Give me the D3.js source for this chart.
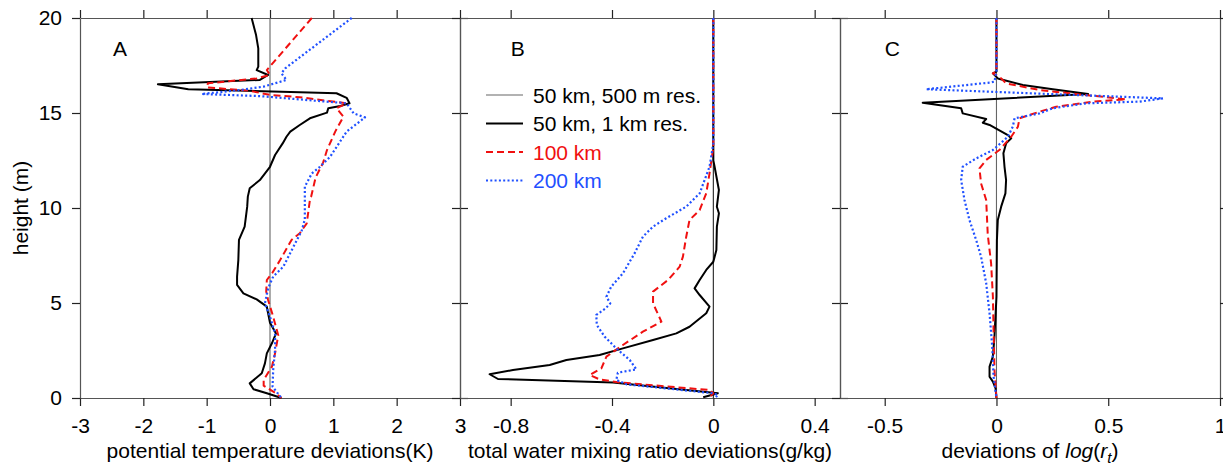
<!DOCTYPE html>
<html>
<head>
<meta charset="utf-8">
<script src="https://cdnjs.cloudflare.com/ajax/libs/d3/7.8.5/d3.min.js"></script>
<style>
body { margin: 0; background: #fff; }
svg text { font-family: "Liberation Sans", Arial, Helvetica, sans-serif; font-size: 21px; }
</style>
</head>
<body>
<svg id="chart" width="1223" height="466"></svg>
<script>

// profiles, [deviation, height], read top to bottom off the figure

// A: potential temperature deviations (K)
var thetaRef = [[0, 0], [0, 20]];
var theta1km = [[-0.29,20],[-0.22,19.1],[-0.185,18.4],[-0.185,17.44],[-0.21,17.26],[-0.03,17.0],[-0.16,16.74],[-1.77,16.51],[-1.29,16.25],[1.05,16.04],[1.21,15.8],[1.255,15.51],[1.11,15.37],[0.92,15.25],[0.9,15.02],[0.63,14.72],[0.47,14.37],[0.32,14.02],[0.26,13.75],[0.2,13.4],[0.08,12.79],[0,12.17],[-0.16,11.47],[-0.32,11.04],[-0.35,10.6],[-0.36,10.07],[-0.4,9.02],[-0.49,8.32],[-0.5,7.26],[-0.52,6.39],[-0.52,5.95],[-0.42,5.51],[-0.21,5.19],[-0.05,4.81],[-0.03,4.46],[0,3.96],[0.095,3.4],[0.03,2.88],[-0.05,2.35],[-0.08,1.82],[-0.13,1.3],[-0.32,0.77],[-0.26,0.46],[-0.05,0.25],[0.18,0]];
var theta100 = [[0.66,20],[-0.05,17.26],[0,17.0],[-0.21,16.82],[-0.98,16.56],[-1.0,16.35],[-0.32,16.17],[0,15.95],[0.47,15.83],[1.21,15.51],[1.05,15.25],[1.16,14.81],[1.03,14.02],[0.9,13.05],[0.84,12.4],[0.72,11.6],[0.65,10.6],[0.63,10.42],[0.58,9.19],[0.47,8.67],[0.34,8.32],[0.16,7.26],[0.04,6.6],[-0.05,6.21],[-0.06,5.6],[-0.03,5.16],[0.05,4.28],[0.13,3.3],[0.08,2.35],[0.03,1.65],[-0.1,0.95],[-0.1,0.65],[0.08,0.28],[0.18,0]];
var theta200 = [[1.29,20],[0.24,17.35],[0.18,17.09],[0.26,16.74],[-0.1,16.39],[-0.47,16.21],[-1.08,16.0],[-0.16,15.89],[1.21,15.51],[1.32,14.98],[1.5,14.77],[1.21,14.02],[0.95,12.7],[0.79,12.17],[0.66,11.82],[0.55,11.12],[0.55,9.4],[0.5,8.8],[0.37,7.96],[0.21,6.91],[0.05,6.39],[-0.03,5.77],[-0.08,4.98],[0,4.28],[0.08,3.4],[0.08,2.53],[0.05,1.47],[0.04,0.6],[0.18,0]];

// B: total water mixing ratio deviations (g/kg)
var rtRef = [[0, 0], [0, 20]];
var rt1km = [[0,20],[0,12.5],[0.005,12.17],[0.022,10.95],[0.014,10.07],[0.022,9.72],[0.014,9.02],[0.012,7.79],[0,7.17],[-0.028,6.74],[-0.054,6.21],[-0.074,5.77],[-0.054,5.42],[-0.015,4.81],[-0.028,4.46],[-0.094,3.75],[-0.146,3.4],[-0.238,3.05],[-0.357,2.61],[-0.449,2.26],[-0.58,2.0],[-0.646,1.74],[-0.791,1.47],[-0.883,1.25],[-0.85,1.0],[-0.396,0.82],[0,0.28],[0.018,0.25],[-0.04,0.04]];
var rt100 = [[0,20],[0,13.2],[-0.015,11.82],[-0.028,10.77],[-0.054,9.89],[-0.094,9.37],[-0.107,8.49],[-0.12,7.44],[-0.133,6.91],[-0.179,6.21],[-0.238,5.6],[-0.238,4.98],[-0.205,4.02],[-0.278,3.49],[-0.357,2.79],[-0.422,2.18],[-0.442,1.56],[-0.488,1.21],[-0.449,0.98],[-0.37,0.82],[-0.015,0.42],[0,0.25],[-0.015,0.04]];
var rt200 = [[0,20],[0,13.4],[-0.015,12.17],[-0.054,10.77],[-0.107,10.07],[-0.186,9.46],[-0.238,9.02],[-0.278,8.49],[-0.311,7.61],[-0.357,6.56],[-0.403,5.86],[-0.422,5.33],[-0.407,4.98],[-0.425,4.72],[-0.462,4.37],[-0.46,3.84],[-0.429,3.23],[-0.383,2.61],[-0.33,2.0],[-0.304,1.51],[-0.377,1.33],[-0.383,0.95],[-0.343,0.72],[0,0.25],[0.018,0.16],[0.01,0.05]];

// C: deviations of log(rt)
var logRef = [[0, 0], [0, 20]];
var log1km = [[0,20],[0,17.18],[-0.016,17.09],[0.006,16.82],[0.118,16.47],[0.252,16.25],[0.41,16.0],[-0.33,15.54],[-0.158,15.25],[-0.151,14.98],[-0.046,14.68],[-0.061,14.49],[-0.031,14.37],[0.051,13.84],[0.066,13.67],[0.043,13.4],[0.031,12.88],[0.036,12.17],[0.043,11.47],[0.04,10.77],[0.021,10.07],[0.006,9.37],[0.002,8.3],[0,5.33],[-0.009,3.23],[-0.016,2.18],[-0.031,1.65],[-0.031,1.12],[-0.016,0.86],[-0.004,0.51],[0,0]];
var log100 = [[0,20],[0,17.2],[-0.016,17.09],[0.013,16.91],[0.043,16.56],[0.193,16.21],[0.372,15.98],[0.58,15.72],[0.431,15.6],[0.267,15.33],[0.193,15.07],[0.103,14.72],[0.096,14.28],[0.066,13.75],[0.013,13.05],[-0.046,12.53],[-0.076,12.09],[-0.069,11.3],[-0.046,10.42],[-0.039,8.6],[-0.024,7.09],[-0.016,5.33],[-0.013,3.58],[-0.009,1.47],[0,0]];
var log200 = [[0,20],[0,17.2],[-0.009,16.65],[-0.03,16.6],[-0.315,16.25],[0.745,15.77],[0.64,15.6],[0.4,15.51],[0.252,15.25],[0.193,14.98],[0.081,14.72],[0.073,14.28],[0.051,13.75],[-0.016,13.05],[-0.091,12.61],[-0.151,12.17],[-0.158,11.47],[-0.143,10.42],[-0.121,9.37],[-0.091,8.32],[-0.069,7.44],[-0.046,6.04],[-0.031,4.46],[-0.019,2.7],[-0.013,1.12],[0,0]];

var legendNames = ["50 km, 500 m res.", "50 km, 1 km res.", "100 km", "200 km"];
var panelLetters = ["A", "B", "C"];
var xDomains = [[-3, 3], [-1, 0.5], [-0.7, 1]];
var xTickValues = [[-3, -2, -1, 0, 1, 2, 3], [-0.8, -0.4, 0, 0.4], [-0.5, 0, 0.5, 1]];
var letterX = [-2.48, -0.8, -0.5];
var yTickValues = [0, 5, 10, 15, 20];
var xTitles = ["potential temperature deviations(K)", "total water mixing ratio deviations(g/kg)", null];

var series = [
    [thetaRef, theta1km, theta100, theta200],
    [rtRef, rt1km, rt100, rt200],
    [logRef, log1km, log100, log200]
];

// line styles, same order as legendNames
var styles = [
    {color: "#666", width: 1.1, dash: null},
    {color: "#000", width: 2, dash: null},
    {color: "#f01010", width: 2, dash: "7,4"},
    {color: "#1f50ff", width: 2.2, dash: "2,2.3"}
];
var textColors = ["#000", "#000", "#f01010", "#1f50ff"];

var svg = d3.select("#chart");
var plotTop = 18, plotH = 380, plotW = 380;
var lefts = [80, 460, 840];

var y = d3.scaleLinear().domain([0, 20]).range([plotTop + plotH, plotTop]);

function styleAxis(g) {
    g.attr("font-size", null).attr("font-family", null);
    g.select(".domain").attr("stroke", "#555").attr("stroke-width", 1.2);
    g.selectAll(".tick line").attr("stroke", "#222").attr("stroke-width", 1.2);
    g.selectAll(".tick text").attr("fill", "#000");
}

for (var p = 0; p < 3; p++) {
    var x = d3.scaleLinear().domain(xDomains[p]).range([lefts[p], lefts[p] + plotW]);
    var panel = svg.append("g");

    // frame + ticks, all pointing outward
    panel.append("g").attr("transform", "translate(0," + (plotTop + plotH) + ")")
        .call(d3.axisBottom(x).tickValues(xTickValues[p]).tickSize(8).tickPadding(12).tickSizeOuter(0)
            .tickFormat(function(d) { return String(d); }))
        .call(styleAxis);
    panel.append("g").attr("transform", "translate(0," + plotTop + ")")
        .call(d3.axisTop(x).tickValues(xTickValues[p]).tickSize(8).tickSizeOuter(0).tickFormat(""))
        .call(styleAxis);
    var yl = d3.axisLeft(y).tickValues(yTickValues).tickSize(8).tickPadding(10).tickSizeOuter(0);
    if (p > 0) yl.tickFormat("");
    panel.append("g").attr("transform", "translate(" + lefts[p] + ",0)").call(yl).call(styleAxis);
    panel.append("g").attr("transform", "translate(" + (lefts[p] + plotW) + ",0)")
        .call(d3.axisRight(y).tickValues(yTickValues).tickSize(8).tickSizeOuter(0).tickFormat(""))
        .call(styleAxis);

    var line = d3.line()
        .x(function(d) { return x(d[0]); })
        .y(function(d) { return y(d[1]); });

    for (var s = 0; s < series[p].length; s++) {
        var st = styles[s];
        panel.append("path")
            .datum(series[p][s])
            .attr("d", line)
            .attr("fill", "none")
            .attr("stroke", (p == 1 && s == 0) ? "#222" : st.color)
            .attr("stroke-width", st.width)
            .attr("stroke-dasharray", st.dash)
            .attr("stroke-linejoin", "round");
    }

    panel.append("text")
        .attr("x", x(letterX[p]))
        .attr("y", 56)
        .text(panelLetters[p]);

    var cx = lefts[p] + plotW / 2;
    if (xTitles[p]) {
        panel.append("text").attr("x", cx).attr("y", 458)
            .attr("text-anchor", "middle").text(xTitles[p]);
    } else {
        // deviations of log(r_t) with italics
        var t = panel.append("text").attr("x", cx).attr("y", 458).attr("text-anchor", "middle");
        t.append("tspan").text("deviations of ");
        t.append("tspan").attr("font-style", "italic").text("log");
        t.append("tspan").text("(");
        t.append("tspan").attr("font-style", "italic").text("r");
        t.append("tspan").attr("font-style", "italic").attr("font-size", "15px").attr("dy", 5).text("t");
        t.append("tspan").attr("dy", -5).text(")");
    }
}

// y title
svg.append("text")
    .attr("transform", "translate(28," + (plotTop + plotH / 2) + ") rotate(-90)")
    .attr("text-anchor", "middle")
    .text("height (m)");

// legend inside panel B
var legend = svg.append("g");
var rowY = [95, 123.5, 152, 180.5];
for (var i = 0; i < legendNames.length; i++) {
    legend.append("line")
        .attr("x1", 486).attr("x2", 523)
        .attr("y1", rowY[i]).attr("y2", rowY[i])
        .attr("stroke", styles[i].color)
        .attr("stroke-width", styles[i].width)
        .attr("stroke-dasharray", styles[i].dash);
    legend.append("text")
        .attr("x", 533).attr("y", rowY[i] + 7.5)
        .attr("fill", textColors[i])
        .text(legendNames[i]);
}

</script>
</body>
</html>
